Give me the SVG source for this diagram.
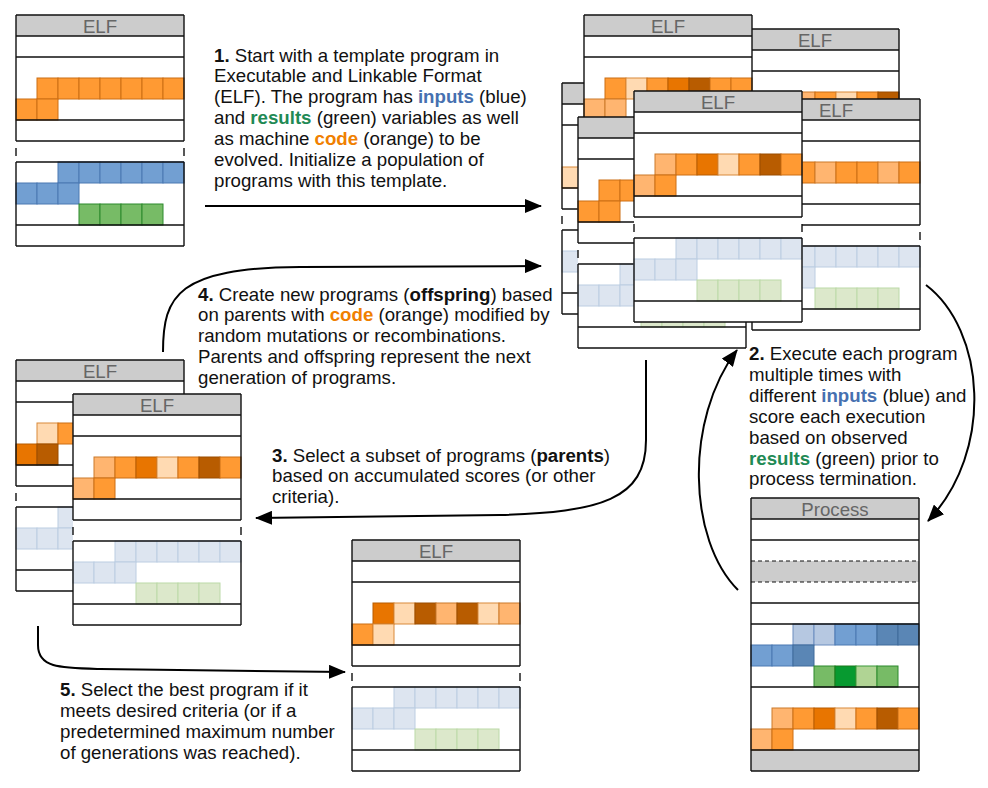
<svg xmlns="http://www.w3.org/2000/svg" xmlns:xlink="http://www.w3.org/1999/xlink" width="988" height="788" viewBox="0 0 988 788">
<style>
.box{fill:#fff}
.hd{fill:#ccc}
.ln{stroke:#111;stroke-width:1.4;fill:none}
.dl{stroke:#111;stroke-width:1.2;fill:none;stroke-dasharray:4 3}
.ht{font-family:"Liberation Sans",Arial,sans-serif;font-size:18.67px;fill:#666;text-anchor:middle}
.t{font-family:"Liberation Sans",Arial,sans-serif;font-size:18.67px;fill:#111}
.bd{font-weight:bold}
.cb{fill:#4670b0;font-weight:bold}
.cg{fill:#1f8a55;font-weight:bold}
.co{fill:#f08000;font-weight:bold}
rect.o0,rect.o1,rect.o2,rect.o3,rect.o4,rect.b1,rect.b2,rect.b3,rect.bf,rect.g1,rect.g2,rect.g3,rect.gf{stroke-width:1}
.o0{fill:#ffdab2;stroke:#d98a3a}
.o1{fill:#ffb570;stroke:#cc7a2a}
.o2{fill:#ff9a33;stroke:#cc6e14}
.o3{fill:#e87500;stroke:#b85c00}
.o4{fill:#b85c00;stroke:#9a4d00}
.b1{fill:#b6c8e1;stroke:#6c8ebf}
.b2{fill:#729fd2;stroke:#4a78b2}
.b3{fill:#5a86b5;stroke:#3f6a9a}
.bf{fill:#dde5f0;stroke:#bccde2}
.g1{fill:#b0d494;stroke:#3a9a3a}
.g2{fill:#77bb66;stroke:#2d8a2d}
.g3{fill:#079a30;stroke:#1a7a1a}
.gf{fill:#dce8cb;stroke:#bcd9a8}
.ar{fill:none;stroke:#000;stroke-width:2}
</style>
<defs>
<marker id="ah" markerUnits="userSpaceOnUse" markerWidth="17" markerHeight="14" refX="16" refY="7" orient="auto">
<path d="M0,0L17,7L0,14z" fill="#000"/>
</marker>
<g id="elfBg"><rect class="box" width="168" height="231"/><rect class="hd" width="168" height="21"/></g>
<path id="elfLines" class="ln" d="M0,0H168M0,21H168M0,42H168M0,105H168M0,126H168M0,147H168M0,210H168M0,231H168M0,0V126M168,0V126M0,147V231M168,147V231M0,133V141M168,133V141"/>
<g id="dataF">
<rect class="bf" x="42" y="147" width="21" height="21"/><rect class="bf" x="63" y="147" width="21" height="21"/><rect class="bf" x="84" y="147" width="21" height="21"/><rect class="bf" x="105" y="147" width="21" height="21"/><rect class="bf" x="126" y="147" width="21" height="21"/><rect class="bf" x="147" y="147" width="21" height="21"/>
<rect class="bf" x="0" y="168" width="21" height="21"/><rect class="bf" x="21" y="168" width="21" height="21"/><rect class="bf" x="42" y="168" width="21" height="21"/>
<rect class="gf" x="63" y="189" width="21" height="21"/><rect class="gf" x="84" y="189" width="21" height="21"/><rect class="gf" x="105" y="189" width="21" height="21"/><rect class="gf" x="126" y="189" width="21" height="21"/>
</g>
</defs>

<!-- Template ELF -->
<g id="elf-template" transform="translate(16,15)">
<use href="#elfBg"/>
<text class="ht" x="84" y="18">ELF</text>
<rect class="o2" x="21" y="63" width="21" height="21"/><rect class="o2" x="42" y="63" width="21" height="21"/><rect class="o2" x="63" y="63" width="21" height="21"/><rect class="o2" x="84" y="63" width="21" height="21"/><rect class="o2" x="105" y="63" width="21" height="21"/><rect class="o2" x="126" y="63" width="21" height="21"/><rect class="o2" x="147" y="63" width="21" height="21"/>
<rect class="o2" x="0" y="84" width="21" height="21"/><rect class="o2" x="21" y="84" width="21" height="21"/>
<rect class="b2" x="42" y="147" width="21" height="21"/><rect class="b2" x="63" y="147" width="21" height="21"/><rect class="b2" x="84" y="147" width="21" height="21"/><rect class="b2" x="105" y="147" width="21" height="21"/><rect class="b2" x="126" y="147" width="21" height="21"/><rect class="b2" x="147" y="147" width="21" height="21"/>
<rect class="b2" x="0" y="168" width="21" height="21"/><rect class="b2" x="21" y="168" width="21" height="21"/><rect class="b2" x="42" y="168" width="21" height="21"/>
<rect class="g2" x="63" y="189" width="21" height="21"/><rect class="g2" x="84" y="189" width="21" height="21"/><rect class="g2" x="105" y="189" width="21" height="21"/><rect class="g2" x="126" y="189" width="21" height="21"/>
<use href="#elfLines"/>
</g>

<!-- Population cluster -->
<g id="pop-b" transform="translate(731,29)">
<use href="#elfBg"/>
<text class="ht" x="84" y="18">ELF</text>
<rect class="o2" x="21" y="63" width="21" height="21"/><rect class="o2" x="42" y="63" width="21" height="21"/><rect class="o1" x="63" y="63" width="21" height="21"/><rect class="o2" x="84" y="63" width="21" height="21"/><rect class="o0" x="105" y="63" width="21" height="21"/><rect class="o2" x="126" y="63" width="21" height="21"/><rect class="o4" x="147" y="63" width="21" height="21"/>
<rect class="o1" x="0" y="84" width="21" height="21"/><rect class="o2" x="21" y="84" width="21" height="21"/>
<use href="#dataF"/>
<use href="#elfLines"/>
</g>
<g id="pop-f" transform="translate(562,83)">
<use href="#elfBg"/>
<text class="ht" x="84" y="18">ELF</text>
<rect class="o2" x="21" y="63" width="21" height="21"/><rect class="o2" x="42" y="63" width="21" height="21"/><rect class="o2" x="63" y="63" width="21" height="21"/><rect class="o2" x="84" y="63" width="21" height="21"/><rect class="o2" x="105" y="63" width="21" height="21"/><rect class="o2" x="126" y="63" width="21" height="21"/><rect class="o2" x="147" y="63" width="21" height="21"/>
<rect class="o0" x="0" y="84" width="21" height="21"/><rect class="o2" x="21" y="84" width="21" height="21"/>
<use href="#dataF"/>
<use href="#elfLines"/>
</g>
<g id="pop-a" transform="translate(584,15)">
<use href="#elfBg"/>
<text class="ht" x="84" y="18">ELF</text>
<rect class="o2" x="21" y="63" width="21" height="21"/><rect class="o0" x="42" y="63" width="21" height="21"/><rect class="o2" x="63" y="63" width="21" height="21"/><rect class="o3" x="84" y="63" width="21" height="21"/><rect class="o4" x="105" y="63" width="21" height="21"/><rect class="o2" x="126" y="63" width="21" height="21"/><rect class="o2" x="147" y="63" width="21" height="21"/>
<rect class="o1" x="0" y="84" width="21" height="21"/><rect class="o1" x="21" y="84" width="21" height="21"/>
<use href="#dataF"/>
<use href="#elfLines"/>
</g>
<g id="pop-e" transform="translate(578,117)">
<use href="#elfBg"/>
<text class="ht" x="84" y="18">ELF</text>
<rect class="o2" x="21" y="63" width="21" height="21"/><rect class="o2" x="42" y="63" width="21" height="21"/><rect class="o2" x="63" y="63" width="21" height="21"/><rect class="o2" x="84" y="63" width="21" height="21"/><rect class="o2" x="105" y="63" width="21" height="21"/><rect class="o2" x="126" y="63" width="21" height="21"/><rect class="o2" x="147" y="63" width="21" height="21"/>
<rect class="o2" x="0" y="84" width="21" height="21"/><rect class="o2" x="21" y="84" width="21" height="21"/>
<use href="#dataF"/>
<use href="#elfLines"/>
</g>
<g id="pop-c" transform="translate(752,99)">
<use href="#elfBg"/>
<text class="ht" x="84" y="18">ELF</text>
<rect class="o2" x="21" y="63" width="21" height="21"/><rect class="o2" x="42" y="63" width="21" height="21"/><rect class="o1" x="63" y="63" width="21" height="21"/><rect class="o2" x="84" y="63" width="21" height="21"/><rect class="o2" x="105" y="63" width="21" height="21"/><rect class="o1" x="126" y="63" width="21" height="21"/><rect class="o2" x="147" y="63" width="21" height="21"/>
<rect class="o2" x="0" y="84" width="21" height="21"/><rect class="o2" x="21" y="84" width="21" height="21"/>
<use href="#dataF"/>
<use href="#elfLines"/>
</g>
<g id="pop-d" transform="translate(634,91)">
<use href="#elfBg"/>
<text class="ht" x="84" y="18">ELF</text>
<rect class="o1" x="21" y="63" width="21" height="21"/><rect class="o2" x="42" y="63" width="21" height="21"/><rect class="o3" x="63" y="63" width="21" height="21"/><rect class="o0" x="84" y="63" width="21" height="21"/><rect class="o2" x="105" y="63" width="21" height="21"/><rect class="o4" x="126" y="63" width="21" height="21"/><rect class="o2" x="147" y="63" width="21" height="21"/>
<rect class="o1" x="0" y="84" width="21" height="21"/><rect class="o2" x="21" y="84" width="21" height="21"/>
<use href="#dataF"/>
<use href="#elfLines"/>
</g>

<!-- Process -->
<g id="process" transform="translate(751,498)">
<rect class="box" width="168" height="273"/>
<rect class="hd" width="168" height="21"/>
<rect class="hd" y="63" width="168" height="21"/>
<rect class="hd" y="252" width="168" height="21"/>
<text class="ht" x="84" y="18">Process</text>
<rect class="b1" x="42" y="126" width="21" height="21"/><rect class="b1" x="63" y="126" width="21" height="21"/><rect class="b2" x="84" y="126" width="21" height="21"/><rect class="b2" x="105" y="126" width="21" height="21"/><rect class="b3" x="126" y="126" width="21" height="21"/><rect class="b3" x="147" y="126" width="21" height="21"/>
<rect class="b2" x="0" y="147" width="21" height="21"/><rect class="b2" x="21" y="147" width="21" height="21"/><rect class="b3" x="42" y="147" width="21" height="21"/>
<rect class="g2" x="63" y="168" width="21" height="21"/><rect class="g3" x="84" y="168" width="21" height="21"/><rect class="g1" x="105" y="168" width="21" height="21"/><rect class="g2" x="126" y="168" width="21" height="21"/>
<rect class="o1" x="21" y="210" width="21" height="21"/><rect class="o2" x="42" y="210" width="21" height="21"/><rect class="o3" x="63" y="210" width="21" height="21"/><rect class="o0" x="84" y="210" width="21" height="21"/><rect class="o2" x="105" y="210" width="21" height="21"/><rect class="o4" x="126" y="210" width="21" height="21"/><rect class="o2" x="147" y="210" width="21" height="21"/>
<rect class="o1" x="0" y="231" width="21" height="21"/><rect class="o2" x="21" y="231" width="21" height="21"/>
<path class="ln" d="M0,0H168M0,21H168M0,42H168M0,105H168M0,126H168M0,189H168M0,252H168M0,273H168M0,0V273M168,0V273"/>
<path class="dl" d="M0,63H168M0,84H168"/>
</g>

<!-- Parents -->
<g id="parent-1" transform="translate(16,360)">
<use href="#elfBg"/>
<text class="ht" x="84" y="18">ELF</text>
<rect class="o0" x="21" y="63" width="21" height="21"/><rect class="o2" x="42" y="63" width="21" height="21"/><rect class="o2" x="63" y="63" width="21" height="21"/>
<rect class="o3" x="0" y="84" width="21" height="21"/><rect class="o4" x="21" y="84" width="21" height="21"/>
<use href="#dataF"/>
<use href="#elfLines"/>
</g>
<g id="parent-2" transform="translate(73,394)">
<use href="#elfBg"/>
<text class="ht" x="84" y="18">ELF</text>
<rect class="o1" x="21" y="63" width="21" height="21"/><rect class="o2" x="42" y="63" width="21" height="21"/><rect class="o3" x="63" y="63" width="21" height="21"/><rect class="o0" x="84" y="63" width="21" height="21"/><rect class="o2" x="105" y="63" width="21" height="21"/><rect class="o4" x="126" y="63" width="21" height="21"/><rect class="o2" x="147" y="63" width="21" height="21"/>
<rect class="o1" x="0" y="84" width="21" height="21"/><rect class="o2" x="21" y="84" width="21" height="21"/>
<use href="#dataF"/>
<use href="#elfLines"/>
</g>

<!-- Best -->
<g id="best" transform="translate(352,540)">
<use href="#elfBg"/>
<text class="ht" x="84" y="18">ELF</text>
<rect class="o3" x="21" y="63" width="21" height="21"/><rect class="o0" x="42" y="63" width="21" height="21"/><rect class="o4" x="63" y="63" width="21" height="21"/><rect class="o1" x="84" y="63" width="21" height="21"/><rect class="o4" x="105" y="63" width="21" height="21"/><rect class="o0" x="126" y="63" width="21" height="21"/><rect class="o1" x="147" y="63" width="21" height="21"/>
<rect class="o2" x="0" y="84" width="21" height="21"/><rect class="o0" x="21" y="84" width="21" height="21"/>
<use href="#dataF"/>
<use href="#elfLines"/>
</g>

<!-- Connectors -->
<g id="connectors">
<path class="ar" marker-end="url(#ah)" d="M205,206L541,206"/>
<path class="ar" marker-end="url(#ah)" d="M926,285C985,330 995,450 928,521"/>
<path class="ar" marker-end="url(#ah)" d="M646,360L646,440C646,500 600,512 500,515L256,518"/>
<path class="ar" marker-end="url(#ah)" d="M163,352C163,295 178,268 300,267L541,266"/>
<path class="ar" marker-end="url(#ah)" d="M38,626L38,645C38,668 60,668 100,669L345,672"/>
<path class="ar" marker-end="url(#ah)" d="M738,590C688,540 684,420 737,350"/>
</g>

<!-- Labels -->
<g id="label-1">
<text class="t" x="214" y="61.5"><tspan class="bd">1.</tspan> Start with a template program in</text>
<text class="t" x="214" y="82.4">Executable and Linkable Format</text>
<text class="t" x="214" y="103.3">(ELF). The program has <tspan class="cb">inputs</tspan> (blue)</text>
<text class="t" x="214" y="124.2">and <tspan class="cg">results</tspan> (green) variables as well</text>
<text class="t" x="214" y="145.1">as machine <tspan class="co">code</tspan> (orange) to be</text>
<text class="t" x="214" y="166">evolved. Initialize a population of</text>
<text class="t" x="214" y="186.9">programs with this template.</text>
</g>
<g id="label-2">
<text class="t" x="749" y="360"><tspan class="bd">2.</tspan> Execute each program</text>
<text class="t" x="749" y="380.9">multiple times with</text>
<text class="t" x="749" y="401.8">different <tspan class="cb">inputs</tspan> (blue) and</text>
<text class="t" x="749" y="422.7">score each execution</text>
<text class="t" x="749" y="443.6">based on observed</text>
<text class="t" x="749" y="464.5"><tspan class="cg">results</tspan> (green) prior to</text>
<text class="t" x="749" y="485.4">process termination.</text>
</g>
<g id="label-3">
<text class="t" x="272" y="461.5"><tspan class="bd">3.</tspan> Select a subset of programs (<tspan class="bd">parents</tspan>)</text>
<text class="t" x="272" y="482.4">based on accumulated scores (or other</text>
<text class="t" x="272" y="503.3">criteria).</text>
</g>
<g id="label-4">
<text class="t" x="198" y="300.5"><tspan class="bd">4.</tspan> Create new programs (<tspan class="bd">offspring</tspan>) based</text>
<text class="t" x="198" y="321.4">on parents with <tspan class="co">code</tspan> (orange) modified by</text>
<text class="t" x="198" y="342.3">random mutations or recombinations.</text>
<text class="t" x="198" y="363.2">Parents and offspring represent the next</text>
<text class="t" x="198" y="384.1">generation of programs.</text>
</g>
<g id="label-5">
<text class="t" x="60" y="696"><tspan class="bd">5.</tspan> Select the best program if it</text>
<text class="t" x="60" y="716.9">meets desired criteria (or if a</text>
<text class="t" x="60" y="737.8">predetermined maximum number</text>
<text class="t" x="60" y="758.7">of generations was reached).</text>
</g>
</svg>
